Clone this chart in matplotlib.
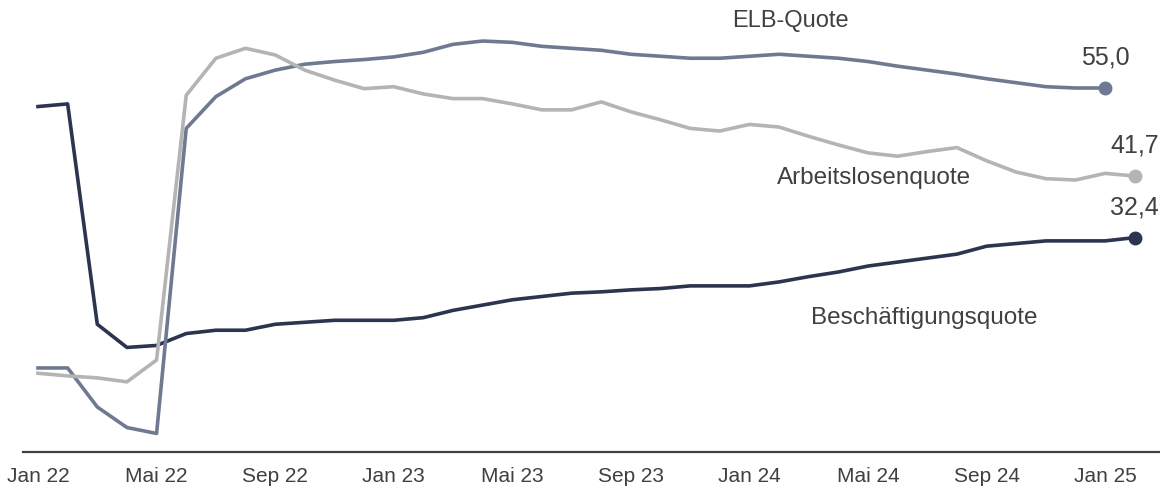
import numpy as np
import matplotlib.pyplot as plt

# monthly values, Jan 22 .. Feb 25
beschaeftigung = [52.2, 52.6, 19.3, 15.8, 16.1, 17.9, 18.4, 18.4, 19.3, 19.6,
                  19.9, 19.9, 19.9, 20.3, 21.4, 22.2, 23.0, 23.5, 24.0, 24.2,
                  24.5, 24.7, 25.1, 25.1, 25.1, 25.7, 26.5, 27.2, 28.1, 28.7,
                  29.3, 29.9, 31.1, 31.5, 31.9, 31.9, 31.9, 32.4]
# ELB-Quote ends one month earlier (Jan 25)
elb = [12.7, 12.7, 6.8, 3.7, 2.8, 48.9, 53.7, 56.4, 57.7, 58.6,
       59.0, 59.3, 59.7, 60.4, 61.6, 62.1, 61.9, 61.3, 61.0, 60.7,
       60.1, 59.8, 59.5, 59.5, 59.8, 60.1, 59.8, 59.5, 59.0, 58.3,
       57.7, 57.1, 56.4, 55.8, 55.2, 55.0, 55.0]
arbeitslos = [11.9, 11.5, 11.2, 10.6, 13.9, 53.9, 59.5, 61.0, 60.0, 57.7,
              56.2, 54.9, 55.2, 54.1, 53.4, 53.4, 52.6, 51.7, 51.7, 52.9,
              51.4, 50.2, 48.9, 48.5, 49.5, 49.1, 47.7, 46.4, 45.2, 44.7,
              45.4, 46.0, 44.0, 42.3, 41.3, 41.1, 42.1, 41.7]

tick_pos = [0, 4, 8, 12, 16, 20, 24, 28, 32, 36]
tick_labels = ["Jan 22", "Mai 22", "Sep 22", "Jan 23", "Mai 23", "Sep 23",
               "Jan 24", "Mai 24", "Sep 24", "Jan 25"]

c_besch = "#2c3550"
c_elb = "#6f7a92"
c_arb = "#b4b4b4"
txt = "#404040"

plt.rcParams['font.family'] = ['Liberation Sans', 'DejaVu Sans']

fig = plt.figure(figsize=(11.6, 4.88), dpi=100)
ax = fig.add_axes([23 / 1160, 36 / 488, 1137 / 1160, 452 / 488])

x_b = np.arange(len(beschaeftigung))
x_e = np.arange(len(elb))
x_a = np.arange(len(arbeitslos))

ax.plot(x_b, beschaeftigung, color=c_besch, lw=2.6, solid_joinstyle='round')
ax.plot(x_e, elb, color=c_elb, lw=2.6, solid_joinstyle='round')
ax.plot(x_a, arbeitslos, color=c_arb, lw=2.6, solid_joinstyle='round')

# end markers and value labels
for xs, ys, c in [(x_b, beschaeftigung, c_besch), (x_e, elb, c_elb), (x_a, arbeitslos, c_arb)]:
    ax.plot(xs[-1], ys[-1], 'o', color=c, ms=9)
    ax.annotate(f"{ys[-1]:.1f}".replace(".", ","), (xs[-1], ys[-1]),
                xytext=(0, 13), textcoords='offset points', ha='center', va='bottom',
                fontsize=18, color=txt)

# series names
ax.text(25.37, 65.1, "ELB-Quote", fontsize=17, color=txt, ha='center', va='center')
ax.text(28.2, 41.4, "Arbeitslosenquote", fontsize=17.5, color=txt, ha='center', va='center')
ax.text(29.9, 20.2, "Beschäftigungsquote", fontsize=17.5, color=txt, ha='center', va='center')

ax.set_xlim(-0.506, 37.85)
ax.set_ylim(0, 68.3)
ax.set_xticks(tick_pos)
ax.set_xticklabels(tick_labels, fontsize=15, color=txt)
ax.tick_params(axis='x', length=0, pad=11)
ax.set_yticks([])
for s in ['top', 'right', 'left']:
    ax.spines[s].set_visible(False)
ax.spines['bottom'].set_color(txt)
ax.spines['bottom'].set_linewidth(1.6)
ax.patch.set_alpha(0)

fig.savefig("out.png", dpi=100)
